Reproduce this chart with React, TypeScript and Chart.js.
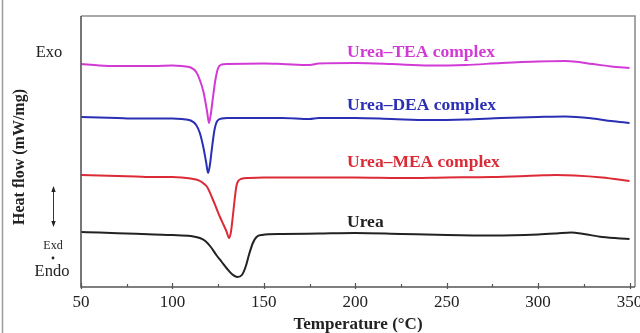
import React, { useEffect, useRef } from "react";
import { Chart, registerables } from "chart.js";

Chart.register(...registerables);

// Temperature (°C) and heat flow (arbitrary, offset curves)
const tempTEA = [50, 60, 70, 80, 90, 100, 105, 110, 113, 115, 117, 119, 120, 121, 122, 123.5, 125, 127, 130, 150, 160, 175, 180, 200, 220, 240, 260, 280, 300, 315, 330, 340, 350];
const heatTEA = [22.3, 22.15, 22.1, 22.1, 22.1, 22.15, 22.1, 21.95, 21.5, 20.7, 19.5, 17.5, 16.4, 17.3, 18.7, 20.7, 21.9, 22.25, 22.3, 22.35, 22.3, 22.2, 22.35, 22.4, 22.3, 22.15, 22.2, 22.4, 22.55, 22.6, 22.3, 22.05, 21.9];

const tempDEA = [50, 60, 70, 80, 90, 100, 105, 110, 113, 115, 117, 118.5, 119.5, 120.5, 121.5, 123, 124.5, 127, 130, 150, 160, 175, 180, 200, 220, 240, 260, 280, 300, 315, 330, 340, 350];
const heatDEA = [17.0, 16.95, 16.9, 16.85, 16.85, 16.85, 16.8, 16.65, 16.2, 15.4, 13.9, 12.4, 11.4, 12.2, 13.7, 15.7, 16.6, 16.85, 16.9, 16.9, 16.9, 16.8, 16.9, 16.9, 16.8, 16.7, 16.75, 16.9, 17.0, 17.05, 16.85, 16.6, 16.4];

const tempMEA = [50, 60, 70, 80, 90, 100, 105, 110, 113, 116, 119, 122, 124, 126, 128, 129.5, 131, 132, 133, 134, 135, 136, 137.5, 142, 150, 175, 200, 225, 250, 275, 300, 310, 320, 335, 350];
const heatMEA = [11.2, 11.15, 11.1, 11.05, 11.0, 11.0, 10.95, 10.85, 10.75, 10.5, 10.0, 8.8, 7.9, 7.0, 6.2, 5.6, 4.9, 5.5, 7.0, 8.7, 10.1, 10.6, 10.8, 10.9, 10.95, 10.95, 10.95, 10.9, 10.95, 11.0, 11.15, 11.2, 11.15, 10.95, 10.6];

const tempUrea = [50, 60, 75, 90, 100, 110, 115, 118, 121, 124, 127, 130, 132.5, 135.5, 138, 140, 142, 144, 146, 149, 160, 180, 200, 225, 250, 275, 300, 310, 318, 325, 335, 350];
const heatUrea = [5.5, 5.45, 5.35, 5.25, 5.2, 5.1, 4.9, 4.6, 4.0, 3.2, 2.5, 1.8, 1.3, 1.0, 1.2, 2.0, 3.3, 4.4, 5.0, 5.2, 5.3, 5.35, 5.4, 5.3, 5.2, 5.15, 5.25, 5.35, 5.45, 5.3, 5.0, 4.8];

const seriesNames = ["Urea\u2013TEA complex", "Urea\u2013DEA complex", "Urea\u2013MEA complex", "Urea"];
const seriesColors = ["#d23ad6", "#2a2fb4", "#dc2a36", "#222222"];
// label anchor (temperature, heat flow) for each series name
const labelTemp = [195.5, 195.5, 195.5, 195.5];
const labelHeat = [23.0, 17.7, 12.0, 6.0];

const xTicks = [50, 100, 150, 200, 250, 300, 350];
const xMinorTicks = [75, 125, 175, 225, 275, 325];

const SERIF = "'Liberation Serif', 'Times New Roman', serif";

const toPoints = (xs: number[], ys: number[]) => xs.map((x, i) => ({ x, y: ys[i] }));

const decor = {
  id: "decor",
  afterDraw(chart: any) {
    const { ctx, chartArea: a, scales } = chart;
    const xs = scales.x;
    const ys = scales.y;
    ctx.save();
    // outer image border on the left
    ctx.strokeStyle = "#9a9a9a";
    ctx.lineWidth = 1.5;
    ctx.beginPath();
    ctx.moveTo(2.5, 0);
    ctx.lineTo(2.5, 333);
    ctx.stroke();
    // frame
    ctx.strokeStyle = "#8e8e8e";
    ctx.lineWidth = 1.6;
    ctx.beginPath();
    ctx.moveTo(a.left, a.top);
    ctx.lineTo(a.right, a.top);
    ctx.lineTo(a.right, a.bottom);
    ctx.stroke();
    ctx.strokeStyle = "#555";
    ctx.beginPath();
    ctx.moveTo(a.left, a.top);
    ctx.lineTo(a.left, a.bottom);
    ctx.lineTo(a.right, a.bottom);
    ctx.stroke();
    // inward ticks
    ctx.lineWidth = 1.2;
    ctx.strokeStyle = "#555";
    xTicks.forEach((v) => {
      const px = Math.round(xs.getPixelForValue(v)) + 0.5;
      ctx.beginPath();
      ctx.moveTo(px, a.bottom + 2);
      ctx.lineTo(px, a.bottom - 4);
      ctx.stroke();
    });
    xMinorTicks.forEach((v) => {
      const px = Math.round(xs.getPixelForValue(v)) + 0.5;
      ctx.beginPath();
      ctx.moveTo(px, a.bottom);
      ctx.lineTo(px, a.bottom - 3);
      ctx.stroke();
    });
    // series labels
    ctx.font = `bold 17.5px ${SERIF}`;
    ctx.textAlign = "left";
    ctx.textBaseline = "alphabetic";
    seriesNames.forEach((name, i) => {
      ctx.fillStyle = seriesColors[i];
      ctx.fillText(name, xs.getPixelForValue(labelTemp[i]), ys.getPixelForValue(labelHeat[i]));
    });
    // left annotations
    ctx.fillStyle = "#222";
    ctx.textAlign = "center";
    ctx.font = `16.5px ${SERIF}`;
    ctx.fillText("Exo", 49, 57);
    ctx.fillText("Endo", 52, 276);
    ctx.font = `12px ${SERIF}`;
    ctx.fillText("Exd", 53, 249);
    ctx.beginPath();
    ctx.arc(53, 258, 1.4, 0, Math.PI * 2);
    ctx.fill();
    // double arrow
    ctx.strokeStyle = "#333";
    ctx.lineWidth = 1;
    ctx.beginPath();
    ctx.moveTo(53.5, 190);
    ctx.lineTo(53.5, 223);
    ctx.stroke();
    ctx.beginPath();
    ctx.moveTo(53.5, 186);
    ctx.lineTo(51.3, 192);
    ctx.lineTo(55.7, 192);
    ctx.closePath();
    ctx.fill();
    ctx.beginPath();
    ctx.moveTo(53.5, 227);
    ctx.lineTo(51.3, 221);
    ctx.lineTo(55.7, 221);
    ctx.closePath();
    ctx.fill();
    // y title
    ctx.save();
    ctx.translate(20, 157);
    ctx.rotate(-Math.PI / 2);
    ctx.font = `bold 16px ${SERIF}`;
    ctx.textBaseline = "middle";
    ctx.fillText("Heat flow (mW/mg)", 0, 0);
    ctx.restore();
    ctx.restore();
  },
};

export default function App() {
  const ref = useRef<HTMLCanvasElement | null>(null);
  useEffect(() => {
    if (!ref.current) return;
    const data = [
      toPoints(tempTEA, heatTEA),
      toPoints(tempDEA, heatDEA),
      toPoints(tempMEA, heatMEA),
      toPoints(tempUrea, heatUrea),
    ];
    const chart = new Chart(ref.current, {
      type: "line",
      data: {
        datasets: data.map((d, i) => ({
          label: seriesNames[i],
          data: d,
          borderColor: seriesColors[i],
          borderWidth: 2,
          pointRadius: 0,
          fill: false,
          cubicInterpolationMode: "monotone" as const,
        })),
      },
      options: {
        responsive: false,
        animation: false,
        events: [],
        layout: { padding: { left: 81, right: 5, top: 16, bottom: 0 } },
        plugins: { legend: { display: false }, tooltip: { enabled: false } },
        scales: {
          x: {
            type: "linear",
            min: 50,
            max: 353,
            afterBuildTicks: (s: any) => {
              s.ticks = xTicks.map((v) => ({ value: v }));
            },
            afterFit: (s: any) => {
              s.height = 46;
              s.paddingLeft = 0;
              s.paddingRight = 0;
            },
            grid: { display: false, drawTicks: false },
            border: { display: false },
            ticks: {
              padding: 5,
              maxRotation: 0,
              autoSkip: false,
              color: "#222",
              font: { family: SERIF, size: 17 },
            },
            title: {
              display: true,
              text: "Temperature (\u00b0C)",
              color: "#222",
              padding: { top: 0, bottom: 0 },
              font: { family: SERIF, size: 17, weight: "bold", lineHeight: 1 },
            },
          },
          y: {
            type: "linear",
            display: false,
            min: 0,
            max: 27.1,
          },
        },
      },
      plugins: [decor],
    });
    return () => chart.destroy();
  }, []);
  return (
    <div style={{ position: "absolute", left: 0, top: 0, width: 640, height: 333, background: "#fff" }}>
      <canvas ref={ref} width={640} height={333} style={{ display: "block" }} />
    </div>
  );
}
